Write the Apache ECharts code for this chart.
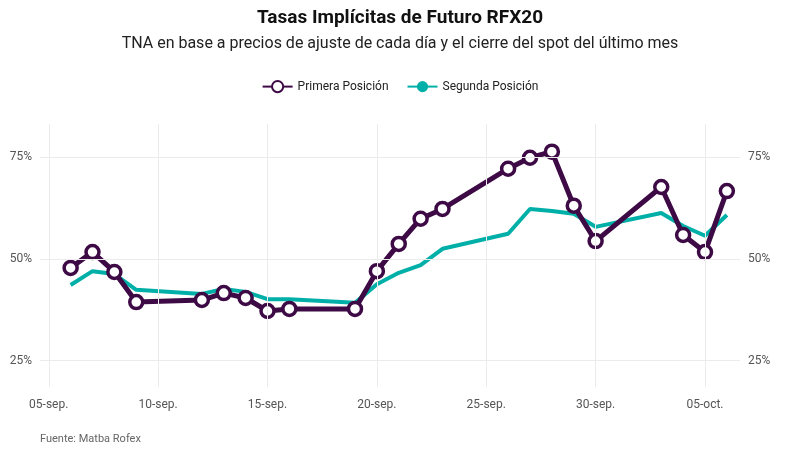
<!DOCTYPE html>
<html>
<head>
<meta charset="utf-8">
<script src="https://cdn.jsdelivr.net/npm/echarts@6/dist/echarts.min.js"></script>
<style>html,body{margin:0;background:#fff}#c{width:800px;height:457px}</style>
</head>
<body>
<div id="c"></div>
<script>
// días desde el 05-sep
let dias = [1, 2, 3, 4, 7, 8, 9, 10, 11, 14, 15, 16, 17, 18, 21, 22, 23, 24, 25, 28, 29, 30, 31]
let primera = [47.8, 51.7, 46.8, 39.4, 39.9, 41.6, 40.4, 37.2, 37.7, 37.7, 47.0, 53.7, 59.9, 62.3, 72.2, 74.9, 76.4, 63.1, 54.4, 67.7, 55.9, 51.7, 66.7]
let segunda = [43.6, 47.0, 46.3, 42.4, 41.4, 42.6, 41.9, 40.1, 40.1, 39.2, 43.8, 46.6, 48.5, 52.5, 56.2, 62.3, 61.8, 61.1, 57.9, 61.3, 58.1, 55.7, 60.8]
let xTicks = [0, 5, 10, 15, 20, 25, 30]
let xLabels = ['05-sep.', '10-sep.', '15-sep.', '20-sep.', '25-sep.', '30-sep.', '05-oct.']
let yTicks = [25, 50, 75]

let myChart = echarts.init(document.getElementById('c'))
let gridLine = { color: '#ebebeb', width: 1, type: 'solid' }
let yAx = function (pos) {
    return {
        type: 'value', position: pos, min: 18.5, max: 83.2,
        axisLine: { show: false }, axisTick: { show: false }, splitLine: { show: false },
        axisLabel: { customValues: yTicks, formatter: '{value}%', color: '#555', fontSize: 12, fontFamily: 'Roboto', margin: 8 }
    }
}
let option = {
    textStyle: { fontFamily: 'Roboto' },
    title: {
        text: 'Tasas Implícitas de Futuro RFX20',
        subtext: 'TNA en base a precios de ajuste de cada día y el cierre del spot del último mes',
        left: 'center', top: 4, itemGap: 8,
        textStyle: { fontSize: 19, fontWeight: 'bold', color: '#111' },
        subtextStyle: { fontSize: 16, color: '#222' }
    },
    legend: {
        top: 75, left: 'center', itemWidth: 30, itemGap: 18,
        textStyle: { fontSize: 12, color: '#222' },
        data: [{ name: 'Primera Posición', icon: 'path://M0,0 L1,0', itemStyle: {} }, 'Segunda Posición']
    },
    grid: { left: 40, right: 60, top: 124, bottom: 70 },
    xAxis: {
        type: 'value', min: -0.4, max: 31.6,
        axisLine: { show: false }, axisTick: { show: false }, splitLine: { show: false },
        axisLabel: {
            customValues: xTicks, color: '#555', fontSize: 12, margin: 12,
            formatter: function (v) { return xLabels[xTicks.indexOf(v)] }
        }
    },
    yAxis: [yAx('left'), yAx('right')],
    series: [
        {
            name: 'grid', type: 'line', data: [], silent: true,
            markLine: {
                silent: true, symbol: 'none', label: { show: false }, lineStyle: gridLine,
                data: yTicks.map(v => ({ yAxis: v })).concat(xTicks.map(v => ({ xAxis: v })))
            }
        },
        {
            name: 'Segunda Posición', type: 'line', z: 2, symbol: 'none',
            data: dias.map((d, i) => [d, segunda[i]]),
            lineStyle: { color: '#00b0a8', width: 4 }, itemStyle: { color: '#00b0a8' }
        },
        {
            name: 'Primera Posición', type: 'line', z: 3,
            data: dias.map((d, i) => [d, primera[i]]),
            symbol: 'circle', symbolSize: 13,
            lineStyle: { color: '#3d0a45', width: 5 },
            itemStyle: { color: '#fff', borderColor: '#3d0a45', borderWidth: 3.5 }
        }
    ],
    graphic: [{ type: 'text', left: 40, top: 434, style: { text: 'Fuente: Matba Rofex', fill: '#666', fontSize: 11, fontFamily: 'Roboto' } }]
}
option.legend.data = ['Primera Posición', 'Segunda Posición']
myChart.setOption(option)
</script>
</body>
</html>
